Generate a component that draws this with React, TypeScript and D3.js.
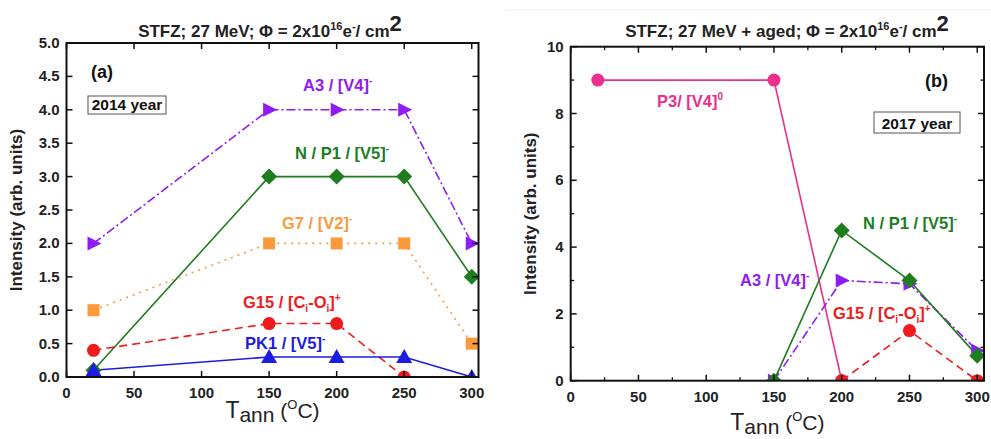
import React from "react";
import * as d3 from "d3";

// ---- Data: panel (a) 2014 ----
const tA = [20, 150, 200, 250, 300];
const a_A3 = [2, 4, 4, 4, 2];
const a_N = [0.1, 3, 3, 3, 1.5];
const a_G7 = [1, 2, 2, 2, 0.5];
const tA_G15 = [20, 150, 200, 250];
const a_G15 = [0.4, 0.8, 0.8, 0];
const a_PK1 = [0.1, 0.3, 0.3, 0.3, 0];

// ---- Data: panel (b) 2017 ----
const tB_P3 = [20, 150, 200];
const b_P3 = [9, 9, 0];
const tB_N = [150, 200, 250, 300];
const b_N = [0, 4.5, 3, 0.75];
const tB_A3 = [150, 200, 250, 300];
const b_A3 = [0, 3, 2.9, 0.9];
const tB_G15 = [200, 250, 300];
const b_G15 = [0, 1.5, 0];

const xTicks = [0, 50, 100, 150, 200, 250, 300];
const yTicksA = [0, 0.5, 1, 1.5, 2, 2.5, 3, 3.5, 4, 4.5, 5];
const yTicksB = [0, 2, 4, 6, 8, 10];

const FONT = "'Liberation Sans', Arial, sans-serif";
const PURPLE = "#8f1cf5";
const GREEN = "#1e7d1e";
const ORANGE = "#fb9a3c";
const RED = "#ee1c1c";
const BLUE = "#1c1ce0";
const MAGENTA = "#ea2f8d";
const LABEL_SIZE = 16.5;

type Series = {
  xs: number[];
  ys: number[];
  color: string;
  dash?: string;
  marker: "circle" | "square" | "diamond" | "triRight" | "triUp";
};

function Marker({ m, x, y, c }: { m: string; x: number; y: number; c: string }) {
  if (m === "circle") return <circle cx={x} cy={y} r={6.5} fill={c} />;
  if (m === "square") return <rect x={x - 6} y={y - 6} width={12} height={12} fill={c} />;
  if (m === "diamond")
    return <path d={`M${x},${y - 8}L${x + 8},${y}L${x},${y + 8}L${x - 8},${y}Z`} fill={c} />;
  if (m === "triRight")
    return <path d={`M${x - 6},${y - 7}L${x + 8},${y}L${x - 6},${y + 7}Z`} fill={c} />;
  return <path d={`M${x},${y - 8}L${x + 8},${y + 6}L${x - 8},${y + 6}Z`} fill={c} />;
}

type Label = { x: number; y: number; color: string; parts: React.ReactNode };

function Panel(props: {
  id: string;
  left: number;
  right: number;
  top: number;
  bottom: number;
  yMax: number;
  yTicks: number[];
  yMinor: number[];
  xMinor: number[];
  yFmt: (v: number) => string;
  series: Series[];
  title: React.ReactNode;
  titleX: number;
  tag: string;
  tagX: number;
  tagY: number;
  year: string;
  yearBox: [number, number, number, number];
  labels: Label[];
  yLabelX: number;
  xLabelY: number;
}) {
  const p = props;
  const x = d3.scaleLinear().domain([0, 305]).range([p.left, p.right]);
  const y = d3.scaleLinear().domain([0, p.yMax]).range([p.bottom, p.top]);
  const line = d3
    .line<[number, number]>()
    .x((d) => x(d[0]))
    .y((d) => y(d[1]));
  const clipId = "clip" + p.id;
  const midX = (p.left + p.right) / 2;
  return (
    <g>
      <defs>
        <clipPath id={clipId}>
          <rect x={p.left} y={p.top} width={p.right - p.left} height={p.bottom - p.top} />
        </clipPath>
      </defs>
      <text x={p.titleX} y={37} textAnchor="middle" fontFamily={FONT} fontWeight="bold" fontSize={17} fill="#222">
        {p.title}
      </text>
      <g clipPath={`url(#${clipId})`}>
        {p.series.map((s, i) => (
          <path
            key={"l" + i}
            d={line(s.xs.map((v, j) => [v, s.ys[j]] as [number, number])) || ""}
            fill="none"
            stroke={s.color}
            strokeWidth={1.6}
            strokeDasharray={s.dash}
          />
        ))}
        {p.series.map((s, i) =>
          s.xs.map((v, j) => <Marker key={"m" + i + "_" + j} m={s.marker} x={x(v)} y={y(s.ys[j])} c={s.color} />)
        )}
      </g>
      <rect x={p.left} y={p.top} width={p.right - p.left} height={p.bottom - p.top} fill="none" stroke="#111" strokeWidth={2} />
      {xTicks.map((t) => (
        <g key={"xt" + t}>
          <line x1={x(t)} x2={x(t)} y1={p.bottom} y2={p.bottom - 6} stroke="#111" strokeWidth={1.5} />
          <line x1={x(t)} x2={x(t)} y1={p.top} y2={p.top + 6} stroke="#111" strokeWidth={1.5} />
          <text x={x(t)} y={p.bottom + 21} textAnchor="middle" fontFamily={FONT} fontWeight="bold" fontSize={15} fill="#222">
            {t}
          </text>
        </g>
      ))}
      {p.xMinor.map((t) => (
        <g key={"xm" + t}>
          <line x1={x(t)} x2={x(t)} y1={p.bottom} y2={p.bottom - 3.5} stroke="#111" strokeWidth={1.3} />
          <line x1={x(t)} x2={x(t)} y1={p.top} y2={p.top + 3.5} stroke="#111" strokeWidth={1.3} />
        </g>
      ))}
      {p.yTicks.map((t) => (
        <g key={"yt" + t}>
          <line x1={p.left} x2={p.left + 6} y1={y(t)} y2={y(t)} stroke="#111" strokeWidth={1.5} />
          <line x1={p.right} x2={p.right - 6} y1={y(t)} y2={y(t)} stroke="#111" strokeWidth={1.5} />
          <text x={p.left - 7} y={y(t) + 5} textAnchor="end" fontFamily={FONT} fontWeight="bold" fontSize={15} fill="#222">
            {p.yFmt(t)}
          </text>
        </g>
      ))}
      {p.yMinor.map((t) => (
        <g key={"ym" + t}>
          <line x1={p.left} x2={p.left + 3.5} y1={y(t)} y2={y(t)} stroke="#111" strokeWidth={1.3} />
          <line x1={p.right} x2={p.right - 3.5} y1={y(t)} y2={y(t)} stroke="#111" strokeWidth={1.3} />
        </g>
      ))}
      <text
        transform={`translate(${p.yLabelX},${(p.top + p.bottom) / 2}) rotate(-90)`}
        textAnchor="middle"
        fontFamily={FONT}
        fontWeight="bold"
        fontSize={17}
        fill="#222"
      >
        Intensity (arb. units)
      </text>
      <text x={midX} y={p.xLabelY} textAnchor="middle" fontFamily={FONT} fontSize={21} fill="#222">
        <tspan fontSize={23}>T</tspan>
        <tspan dy={4}>ann</tspan>
        <tspan dy={-4}> (</tspan>
        <tspan dy={-9} fontSize={13}>O</tspan>
        <tspan dy={9}>C)</tspan>
      </text>
      <text x={p.tagX} y={p.tagY} fontFamily={FONT} fontWeight="bold" fontSize={18} fill="#111">
        {p.tag}
      </text>
      <rect x={p.yearBox[0]} y={p.yearBox[1]} width={p.yearBox[2]} height={p.yearBox[3]} fill="#fff" stroke="#555" strokeWidth={1} />
      <text x={p.yearBox[0] + p.yearBox[2] / 2} y={p.yearBox[1] + p.yearBox[3] - 4} textAnchor="middle" fontFamily={FONT} fontWeight="bold" fontSize={15.5} fill="#111">
        {p.year}
      </text>
      {p.labels.map((l, i) => (
        <text key={"lab" + i} x={l.x} y={l.y} fontFamily={FONT} fontWeight="bold" fontSize={LABEL_SIZE} fill={l.color}>
          {l.parts}
        </text>
      ))}
    </g>
  );
}

const sup = (s: string) => (
  <>
    <tspan dy={-7} fontSize={10}>{s}</tspan>
    <tspan dy={7}>{"\u200b"}</tspan>
  </>
);
const sub = (s: string) => (
  <>
    <tspan dy={4} fontSize={10}>{s}</tspan>
    <tspan dy={-4}>{"\u200b"}</tspan>
  </>
);

const titleParts = (mid: string) => (
  <>
    {`STFZ; 27 MeV${mid}; \u03A6 = 2x10`}
    <tspan dy={-7} fontSize={11}>16</tspan>
    <tspan dy={7}>e</tspan>
    <tspan dy={-7} fontSize={11}>-</tspan>
    <tspan dy={7}>/ cm</tspan>
    <tspan dy={-6} fontSize={22}>2</tspan>
  </>
);

export default function App() {
  const xMinorB = [25, 75, 125, 175, 225, 275];
  const yMinorB = [1, 3, 5, 7, 9];
  return (
    <svg width={991} height={439} style={{ position: "absolute", left: 0, top: 0, background: "#fff" }}>
      <line x1={505} x2={991} y1={10} y2={10} stroke="#eee" strokeWidth={1} />
      <Panel
        id="a"
        left={66.5}
        right={478.5}
        top={43}
        bottom={377}
        yMax={5}
        yTicks={yTicksA}
        yMinor={[]}
        xMinor={[]}
        yFmt={(v) => v.toFixed(1)}
        series={[
          { xs: tA, ys: a_A3, color: PURPLE, dash: "9,3,2,3", marker: "triRight" },
          { xs: tA, ys: a_N, color: GREEN, marker: "diamond" },
          { xs: tA, ys: a_G7, color: ORANGE, dash: "2,5", marker: "square" },
          { xs: tA_G15, ys: a_G15, color: RED, dash: "8,5", marker: "circle" },
          { xs: tA, ys: a_PK1, color: BLUE, marker: "triUp" },
        ]}
        title={titleParts("")}
        titleX={270}
        tag="(a)"
        tagX={91}
        tagY={78}
        year="2014 year"
        yearBox={[88, 96, 78, 18]}
        labels={[
          { x: 303, y: 91, color: PURPLE, parts: <>A3 / [V4]{sup("-")}</> },
          { x: 295, y: 159, color: GREEN, parts: <>N / P1 / [V5]{sup("-")}</> },
          { x: 282, y: 229, color: ORANGE, parts: <>G7 / [V2]{sup("-")}</> },
          { x: 243, y: 308, color: RED, parts: <>G15 / [C{sub("i")}-O{sub("i")}]{sup("+")}</> },
          { x: 245, y: 349, color: BLUE, parts: <>PK1 / [V5]{sup("-")}</> },
        ]}
        yLabelX={22}
        xLabelY={418}
      />
      <Panel
        id="b"
        left={570.7}
        right={984}
        top={46.7}
        bottom={380.7}
        yMax={10}
        yTicks={yTicksB}
        yMinor={yMinorB}
        xMinor={xMinorB}
        yFmt={(v) => String(v)}
        series={[
          { xs: tB_P3, ys: b_P3, color: MAGENTA, marker: "circle" },
          { xs: tB_G15, ys: b_G15, color: RED, dash: "8,5", marker: "circle" },
          { xs: tB_A3, ys: b_A3, color: PURPLE, dash: "9,3,2,3", marker: "triRight" },
          { xs: tB_N, ys: b_N, color: GREEN, marker: "diamond" },
        ]}
        title={titleParts(" + aged")}
        titleX={787}
        tag="(b)"
        tagX={925}
        tagY={87}
        year="2017 year"
        yearBox={[874, 112, 86, 21]}
        labels={[
          { x: 657, y: 107, color: MAGENTA, parts: <>P3/ [V4]{sup("0")}</> },
          { x: 863, y: 229, color: GREEN, parts: <>N / P1 / [V5]{sup("-")}</> },
          { x: 740, y: 286, color: PURPLE, parts: <>A3 / [V4]{sup("-")}</> },
          { x: 833, y: 319, color: RED, parts: <>G15 / [C{sub("i")}-O{sub("i")}]{sup("+")}</> },
        ]}
        yLabelX={536}
        xLabelY={430}
      />
    </svg>
  );
}
